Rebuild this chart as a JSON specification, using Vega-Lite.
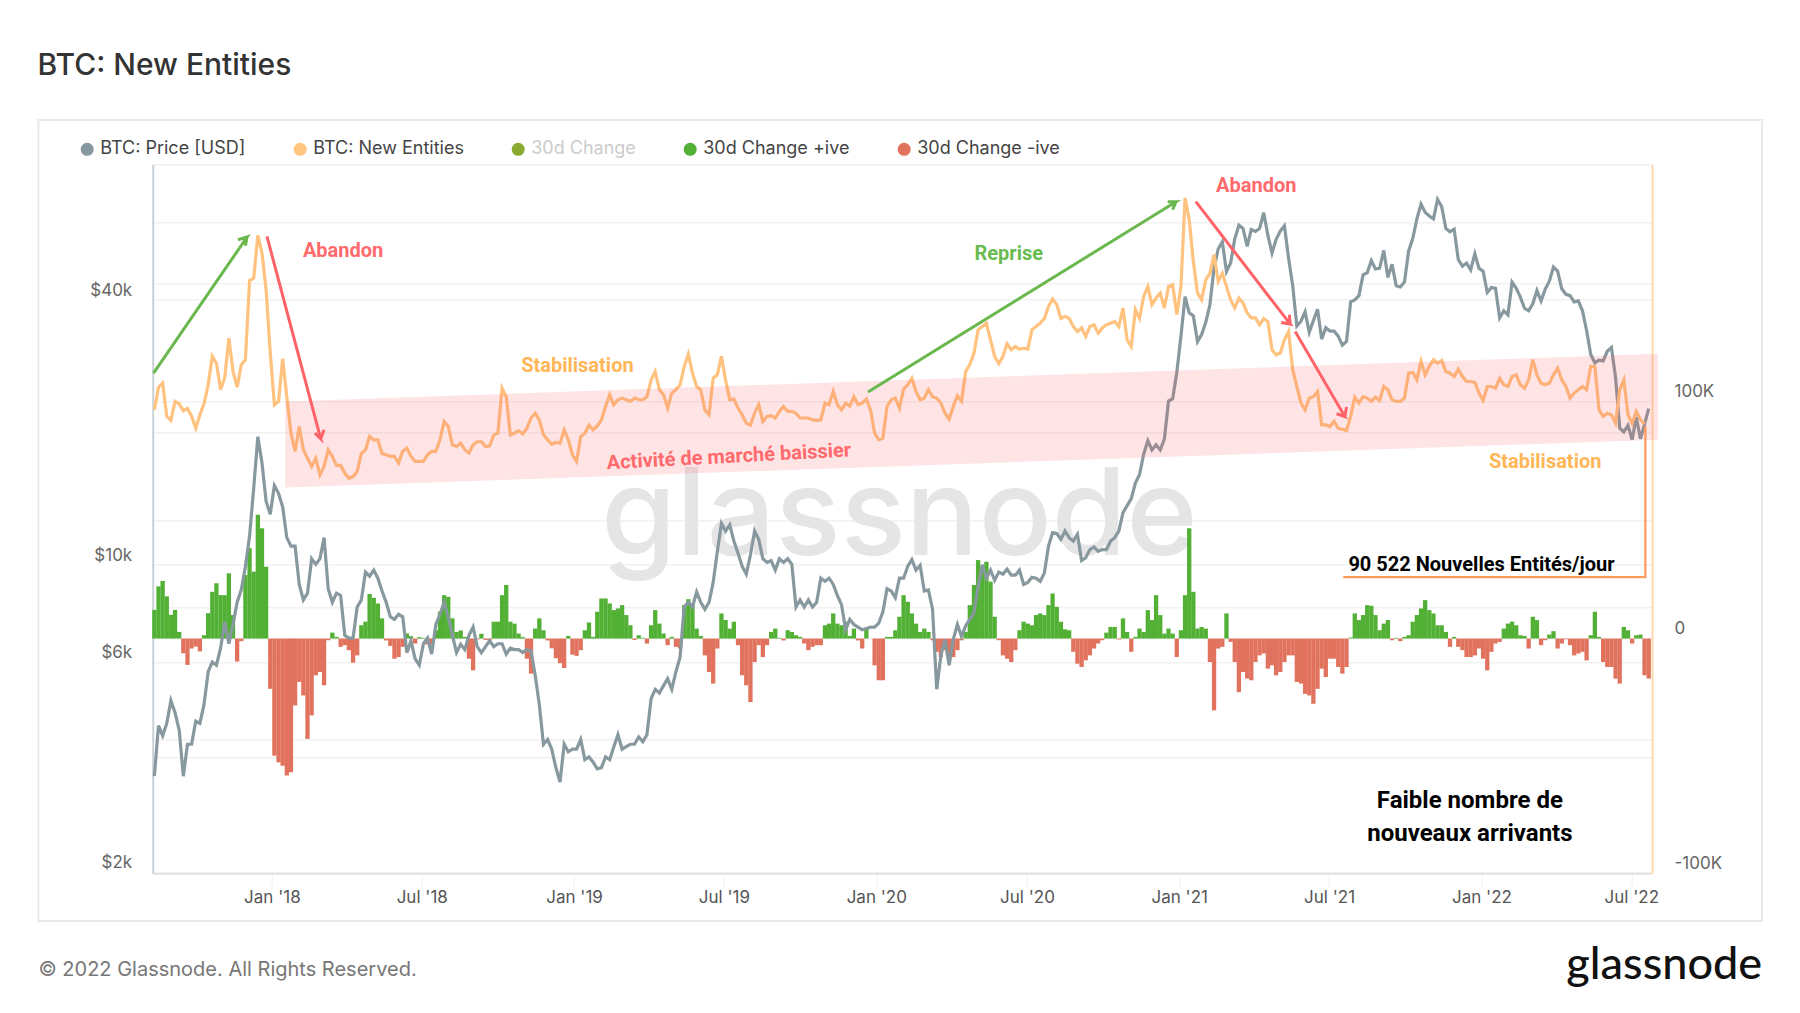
{"$schema":"https://vega.github.io/schema/vega-lite/v6.json","description":"BTC new entities vs price, with 30 day change bars and annotations","autosize":"none","width":1499.3,"height":709,"padding":{"left":152.7,"top":164.3,"right":148,"bottom":139.7},"background":"white",
"title":{"text":"BTC: New Entities","anchor":"start","dx":0,"offset":38,"fontSize":30,"fontWeight":500,"font":"Inter","color":"#333333"},
"config":{"font":"Inter","view":{"stroke":null}},
"datasets":{
"daily":[
{"date":"2017-08-12","entities":96500,"change":12100,"price":3300},{"date":"2017-08-17","entities":106000,"change":22000,"price":4300},{"date":"2017-08-22","entities":107700,"change":24300,"price":4080},{"date":"2017-08-27","entities":93700,"change":17800,"price":4350},
{"date":"2017-09-01","entities":92000,"change":10000,"price":4900},{"date":"2017-09-06","entities":100000,"change":12100,"price":4600},{"date":"2017-09-11","entities":99000,"change":2800,"price":4200},{"date":"2017-09-16","entities":96000,"change":-6200,"price":3300},{"date":"2017-09-21","entities":97000,"change":-11100,"price":3900},{"date":"2017-09-26","entities":93700,"change":-4200,"price":3900},
{"date":"2017-10-01","entities":88700,"change":-3400,"price":4400},{"date":"2017-10-06","entities":94400,"change":-5400,"price":4350},{"date":"2017-10-11","entities":99000,"change":1400,"price":4800},{"date":"2017-10-16","entities":107000,"change":10700,"price":5700},{"date":"2017-10-21","entities":119000,"change":19700,"price":6000},{"date":"2017-10-26","entities":116000,"change":23300,"price":5900},{"date":"2017-10-31","entities":105000,"change":18300,"price":6450},
{"date":"2017-11-05","entities":110000,"change":18300,"price":7400},{"date":"2017-11-10","entities":126700,"change":27500,"price":6600},{"date":"2017-11-15","entities":112700,"change":9900,"price":7300},{"date":"2017-11-20","entities":106000,"change":-9700,"price":8200},{"date":"2017-11-25","entities":115500,"change":-1100,"price":8750},{"date":"2017-11-30","entities":117600,"change":26800,"price":9900},
{"date":"2017-12-05","entities":151000,"change":38100,"price":11600},{"date":"2017-12-10","entities":152000,"change":28200,"price":14900},{"date":"2017-12-15","entities":170000,"change":52200,"price":19500},{"date":"2017-12-20","entities":162600,"change":46500,"price":17000},{"date":"2017-12-25","entities":147000,"change":30300,"price":13900},{"date":"2017-12-30","entities":120400,"change":-21200,"price":13000},
{"date":"2018-01-04","entities":98600,"change":-49400,"price":15100},{"date":"2018-01-09","entities":100000,"change":-52200,"price":14500},{"date":"2018-01-14","entities":118000,"change":-53600,"price":13500},{"date":"2018-01-19","entities":102000,"change":-57800,"price":11500},{"date":"2018-01-24","entities":86600,"change":-56400,"price":11000},{"date":"2018-01-29","entities":78900,"change":-28200,"price":11000},
{"date":"2018-02-03","entities":89400,"change":-18300,"price":9000},{"date":"2018-02-08","entities":79600,"change":-24000,"price":8300},{"date":"2018-02-13","entities":76000,"change":-42300,"price":8600},{"date":"2018-02-18","entities":72600,"change":-32400,"price":10300},{"date":"2018-02-23","entities":76000,"change":-15500,"price":10000},{"date":"2018-02-28","entities":69000,"change":-14100,"price":10300},
{"date":"2018-03-05","entities":72600,"change":-19700,"price":11500},{"date":"2018-03-10","entities":79600,"change":-700,"price":8800},{"date":"2018-03-15","entities":76800,"change":2500,"price":8200},{"date":"2018-03-20","entities":73000,"change":700,"price":8600},{"date":"2018-03-25","entities":73000,"change":-3500,"price":8500},{"date":"2018-03-30","entities":69800,"change":-2800,"price":6900},
{"date":"2018-04-04","entities":67600,"change":-4900,"price":6800},{"date":"2018-04-09","entities":68300,"change":-10200,"price":6800},{"date":"2018-04-14","entities":70400,"change":-7100,"price":8000},{"date":"2018-04-19","entities":78000,"change":5600,"price":8300},{"date":"2018-04-24","entities":79600,"change":7100,"price":9600},{"date":"2018-04-29","entities":85200,"change":18800,"price":9400},
{"date":"2018-05-04","entities":83800,"change":17200,"price":9700},{"date":"2018-05-09","entities":83800,"change":14800,"price":9300},{"date":"2018-05-14","entities":78000,"change":8500,"price":8700},{"date":"2018-05-19","entities":77500,"change":-800,"price":8200},{"date":"2018-05-24","entities":76800,"change":-3100,"price":7600},{"date":"2018-05-29","entities":76800,"change":-8500,"price":7500},
{"date":"2018-06-03","entities":74000,"change":-7800,"price":7700},{"date":"2018-06-08","entities":79000,"change":-3500,"price":7600},{"date":"2018-06-13","entities":80300,"change":2100,"price":6300},{"date":"2018-06-18","entities":76800,"change":1000,"price":6700},{"date":"2018-06-23","entities":74700,"change":-2100,"price":6100},{"date":"2018-06-28","entities":74700,"change":600,"price":5900},
{"date":"2018-07-03","entities":74700,"change":300,"price":6600},{"date":"2018-07-08","entities":77500,"change":-2500,"price":6800},{"date":"2018-07-13","entities":78900,"change":-2500,"price":6250},{"date":"2018-07-18","entities":78900,"change":3500,"price":7300},{"date":"2018-07-23","entities":83800,"change":11300,"price":7700},{"date":"2018-07-28","entities":91500,"change":18300,"price":8200},
{"date":"2018-08-02","entities":89400,"change":17600,"price":7600},{"date":"2018-08-07","entities":81700,"change":8500,"price":6900},{"date":"2018-08-12","entities":81000,"change":2800,"price":6300},{"date":"2018-08-17","entities":82400,"change":3400,"price":6580},{"date":"2018-08-22","entities":79600,"change":700,"price":6400},{"date":"2018-08-27","entities":78200,"change":-8500,"price":6900},
{"date":"2018-09-01","entities":81700,"change":-13400,"price":7200},{"date":"2018-09-06","entities":83000,"change":-400,"price":6500},{"date":"2018-09-11","entities":83000,"change":2000,"price":6300},{"date":"2018-09-16","entities":81000,"change":-600,"price":6500},{"date":"2018-09-21","entities":81300,"change":-800,"price":6700},{"date":"2018-09-26","entities":85900,"change":7100,"price":6500},
{"date":"2018-10-01","entities":86600,"change":7100,"price":6600},{"date":"2018-10-06","entities":105600,"change":18300,"price":6600},{"date":"2018-10-11","entities":102000,"change":22600,"price":6250},{"date":"2018-10-16","entities":85900,"change":7100,"price":6450},{"date":"2018-10-21","entities":86600,"change":6300,"price":6400},{"date":"2018-10-26","entities":87700,"change":2100,"price":6400},{"date":"2018-10-31","entities":86300,"change":600,"price":6300},
{"date":"2018-11-05","entities":88700,"change":-8500,"price":6400},{"date":"2018-11-10","entities":93000,"change":-14800,"price":6350},{"date":"2018-11-15","entities":95000,"change":4200,"price":5600},{"date":"2018-11-20","entities":92200,"change":8500,"price":4800},{"date":"2018-11-25","entities":85900,"change":3500,"price":3900},{"date":"2018-11-30","entities":83800,"change":-800,"price":4000},
{"date":"2018-12-05","entities":82000,"change":-4100,"price":3800},{"date":"2018-12-10","entities":82700,"change":-8300,"price":3450},{"date":"2018-12-15","entities":82400,"change":-10400,"price":3200},{"date":"2018-12-20","entities":88000,"change":-12400,"price":3900},{"date":"2018-12-25","entities":83800,"change":1100,"price":3750},{"date":"2018-12-30","entities":77500,"change":-6800,"price":3800},
{"date":"2019-01-04","entities":74700,"change":-7300,"price":3800},{"date":"2019-01-09","entities":85200,"change":-4900,"price":4000},{"date":"2019-01-14","entities":86600,"change":3500,"price":3600},{"date":"2019-01-19","entities":90000,"change":6800,"price":3650},{"date":"2019-01-24","entities":88000,"change":700,"price":3550},{"date":"2019-01-29","entities":89700,"change":11300,"price":3430},
{"date":"2019-02-03","entities":92200,"change":16900,"price":3450},{"date":"2019-02-08","entities":97900,"change":16900,"price":3650},{"date":"2019-02-13","entities":102800,"change":14800,"price":3600},{"date":"2019-02-18","entities":98600,"change":12000,"price":3850},{"date":"2019-02-23","entities":100700,"change":12700,"price":4100},{"date":"2019-02-28","entities":101400,"change":14100,"price":3800},
{"date":"2019-03-05","entities":100700,"change":9900,"price":3850},{"date":"2019-03-10","entities":100000,"change":5600,"price":3900},{"date":"2019-03-15","entities":101400,"change":-600,"price":3900},{"date":"2019-03-20","entities":100700,"change":1400,"price":4050},{"date":"2019-03-25","entities":100700,"change":300,"price":3950},{"date":"2019-03-30","entities":102000,"change":-2100,"price":4100},
{"date":"2019-04-04","entities":109000,"change":5600,"price":4950},{"date":"2019-04-09","entities":112600,"change":12000,"price":5200},{"date":"2019-04-14","entities":104900,"change":6300,"price":5100},{"date":"2019-04-19","entities":102800,"change":2100,"price":5300},{"date":"2019-04-24","entities":97200,"change":-2800,"price":5500},{"date":"2019-04-29","entities":103500,"change":700,"price":5200},
{"date":"2019-05-04","entities":104900,"change":-3500,"price":5700},{"date":"2019-05-09","entities":107000,"change":-4200,"price":6150},{"date":"2019-05-14","entities":114700,"change":14100,"price":8000},{"date":"2019-05-19","entities":120000,"change":16600,"price":8200},{"date":"2019-05-24","entities":112000,"change":14100,"price":8000},{"date":"2019-05-29","entities":106300,"change":4200,"price":8650},
{"date":"2019-06-03","entities":104900,"change":1100,"price":8200},{"date":"2019-06-08","entities":96500,"change":-7100,"price":7900},{"date":"2019-06-13","entities":94400,"change":-14100,"price":8200},{"date":"2019-06-18","entities":109800,"change":-19000,"price":9100},{"date":"2019-06-23","entities":111200,"change":-4200,"price":10700},{"date":"2019-06-28","entities":119000,"change":10600,"price":12400},
{"date":"2019-07-03","entities":109000,"change":7800,"price":11900},{"date":"2019-07-08","entities":100700,"change":4200,"price":12300},{"date":"2019-07-13","entities":101000,"change":7100,"price":11300},{"date":"2019-07-18","entities":97200,"change":-2800,"price":10600},{"date":"2019-07-23","entities":94400,"change":-15500,"price":9900},{"date":"2019-07-28","entities":90800,"change":-19700,"price":9500},
{"date":"2019-08-02","entities":90000,"change":-26800,"price":10500},{"date":"2019-08-07","entities":95000,"change":-9900,"price":11900},{"date":"2019-08-12","entities":98600,"change":-2800,"price":11400},{"date":"2019-08-17","entities":91500,"change":-7800,"price":10300},{"date":"2019-08-22","entities":93700,"change":-2800,"price":10100},{"date":"2019-08-27","entities":94000,"change":2800,"price":10200},
{"date":"2019-09-01","entities":93000,"change":4200,"price":9700},{"date":"2019-09-06","entities":95800,"change":300,"price":10300},{"date":"2019-09-11","entities":97900,"change":-800,"price":10100},{"date":"2019-09-16","entities":95800,"change":3500,"price":10300},{"date":"2019-09-21","entities":95800,"change":2800,"price":10000},{"date":"2019-09-26","entities":95000,"change":1400,"price":8000},
{"date":"2019-10-01","entities":93000,"change":700,"price":8300},{"date":"2019-10-06","entities":93000,"change":-2100,"price":8000},{"date":"2019-10-11","entities":93000,"change":-4900,"price":8300},{"date":"2019-10-16","entities":92200,"change":-3500,"price":8000},{"date":"2019-10-21","entities":92000,"change":-2800,"price":8200},{"date":"2019-10-26","entities":92200,"change":-2800,"price":9300},{"date":"2019-10-31","entities":99300,"change":5600,"price":9150},
{"date":"2019-11-05","entities":98600,"change":6300,"price":9300},{"date":"2019-11-10","entities":104200,"change":10600,"price":9000},{"date":"2019-11-15","entities":98600,"change":6300,"price":8500},{"date":"2019-11-20","entities":96500,"change":5600,"price":8100},{"date":"2019-11-25","entities":99300,"change":7100,"price":7100},{"date":"2019-11-30","entities":98000,"change":1100,"price":7500},
{"date":"2019-12-05","entities":102000,"change":4200,"price":7300},{"date":"2019-12-10","entities":98600,"change":-800,"price":7200},{"date":"2019-12-15","entities":99300,"change":-4200,"price":7100},{"date":"2019-12-20","entities":101000,"change":4200,"price":7150},{"date":"2019-12-25","entities":96500,"change":0,"price":7200},{"date":"2019-12-30","entities":86600,"change":-11300,"price":7200},
{"date":"2020-01-04","entities":83800,"change":-17600,"price":7350},{"date":"2020-01-09","entities":84500,"change":-17600,"price":7800},{"date":"2020-01-14","entities":97900,"change":700,"price":8800},{"date":"2020-01-19","entities":100700,"change":700,"price":8700},{"date":"2020-01-24","entities":101400,"change":3500,"price":8400},{"date":"2020-01-29","entities":97200,"change":9200,"price":9300},
{"date":"2020-02-03","entities":105200,"change":18300,"price":9300},{"date":"2020-02-08","entities":107000,"change":15500,"price":9900},{"date":"2020-02-13","entities":109800,"change":10600,"price":10250},{"date":"2020-02-18","entities":104200,"change":6300,"price":9700},{"date":"2020-02-23","entities":100700,"change":2800,"price":9950},{"date":"2020-02-28","entities":101400,"change":4200,"price":8700},
{"date":"2020-03-04","entities":105000,"change":2800,"price":8750},{"date":"2020-03-09","entities":102000,"change":-700,"price":7900},{"date":"2020-03-14","entities":101400,"change":-5600,"price":5200},{"date":"2020-03-19","entities":99300,"change":-7800,"price":6200},{"date":"2020-03-24","entities":95000,"change":-4900,"price":6750},{"date":"2020-03-29","entities":92500,"change":-7100,"price":5900},
{"date":"2020-04-03","entities":97900,"change":-7800,"price":6750},{"date":"2020-04-08","entities":102400,"change":-4900,"price":7300},{"date":"2020-04-13","entities":100000,"change":-700,"price":6850},{"date":"2020-04-18","entities":112600,"change":2800,"price":7250},{"date":"2020-04-23","entities":115500,"change":14100,"price":7500},{"date":"2020-04-28","entities":120400,"change":22600,"price":7750},
{"date":"2020-05-03","entities":130200,"change":33100,"price":8900},{"date":"2020-05-08","entities":131600,"change":30300,"price":9980},{"date":"2020-05-13","entities":133000,"change":32400,"price":9300},{"date":"2020-05-18","entities":126000,"change":24000,"price":9700},{"date":"2020-05-23","entities":119000,"change":9200,"price":9200},{"date":"2020-05-28","entities":116000,"change":-700,"price":9600},
{"date":"2020-06-02","entities":119000,"change":-7100,"price":9500},{"date":"2020-06-07","entities":124300,"change":-8500,"price":9750},{"date":"2020-06-12","entities":121800,"change":-9900,"price":9450},{"date":"2020-06-17","entities":123200,"change":-4900,"price":9450},{"date":"2020-06-22","entities":122000,"change":3500,"price":9700},{"date":"2020-06-27","entities":122500,"change":7100,"price":9000},
{"date":"2020-07-02","entities":122000,"change":6300,"price":9100},{"date":"2020-07-07","entities":130200,"change":5600,"price":9350},{"date":"2020-07-12","entities":131600,"change":9900,"price":9300},{"date":"2020-07-17","entities":133000,"change":10600,"price":9150},{"date":"2020-07-22","entities":135000,"change":9900,"price":9550},{"date":"2020-07-27","entities":140000,"change":14100,"price":11000},
{"date":"2020-08-01","entities":143200,"change":19000,"price":11800},{"date":"2020-08-06","entities":140800,"change":13400,"price":11750},{"date":"2020-08-11","entities":135000,"change":7100,"price":11400},{"date":"2020-08-16","entities":135900,"change":3900,"price":11900},{"date":"2020-08-21","entities":135000,"change":3500,"price":11500},{"date":"2020-08-26","entities":131600,"change":-5600,"price":11300},{"date":"2020-08-31","entities":129500,"change":-10600,"price":11700},
{"date":"2020-09-05","entities":131000,"change":-12000,"price":10200},{"date":"2020-09-10","entities":127400,"change":-9200,"price":10350},{"date":"2020-09-15","entities":131600,"change":-7100,"price":10800},{"date":"2020-09-20","entities":132300,"change":-4200,"price":10950},{"date":"2020-09-25","entities":128800,"change":-2100,"price":10700},{"date":"2020-09-30","entities":131000,"change":-700,"price":10800},
{"date":"2020-10-05","entities":132300,"change":2500,"price":10800},{"date":"2020-10-10","entities":133000,"change":4900,"price":11300},{"date":"2020-10-15","entities":133700,"change":4900,"price":11500},{"date":"2020-10-20","entities":131600,"change":-400,"price":11900},{"date":"2020-10-25","entities":139400,"change":8500,"price":13100},{"date":"2020-10-30","entities":126000,"change":2800,"price":13600},
{"date":"2020-11-04","entities":123200,"change":-5600,"price":14100},{"date":"2020-11-09","entities":138700,"change":700,"price":15300},{"date":"2020-11-14","entities":135000,"change":4200,"price":16000},{"date":"2020-11-19","entities":144300,"change":2800,"price":17800},{"date":"2020-11-24","entities":148500,"change":12000,"price":19100},{"date":"2020-11-29","entities":140800,"change":7800,"price":18200},
{"date":"2020-12-04","entities":143600,"change":18300,"price":18700},{"date":"2020-12-09","entities":145700,"change":9900,"price":18200},{"date":"2020-12-14","entities":139400,"change":2100,"price":19250},{"date":"2020-12-19","entities":148500,"change":4200,"price":23500},{"date":"2020-12-24","entities":149200,"change":2100,"price":23800},{"date":"2020-12-29","entities":136600,"change":-7800,"price":27300},
{"date":"2021-01-03","entities":148500,"change":3500,"price":33000},{"date":"2021-01-08","entities":185800,"change":18300,"price":40600},{"date":"2021-01-13","entities":176600,"change":46500,"price":37300},{"date":"2021-01-18","entities":159000,"change":19700,"price":36700},{"date":"2021-01-23","entities":145700,"change":4200,"price":32100},{"date":"2021-01-28","entities":142900,"change":4900,"price":33300},
{"date":"2021-02-02","entities":151300,"change":4200,"price":35500},{"date":"2021-02-07","entities":154000,"change":-9900,"price":38900},{"date":"2021-02-12","entities":161900,"change":-30300,"price":47200},{"date":"2021-02-17","entities":150600,"change":-4200,"price":52100},{"date":"2021-02-22","entities":154000,"change":-3500,"price":54100},{"date":"2021-02-27","entities":148500,"change":10600,"price":46300},
{"date":"2021-03-04","entities":142900,"change":-1400,"price":48400},{"date":"2021-03-09","entities":139400,"change":-9900,"price":54900},{"date":"2021-03-14","entities":143600,"change":-22600,"price":59000},{"date":"2021-03-19","entities":141500,"change":-14100,"price":58000},{"date":"2021-03-24","entities":137300,"change":-16900,"price":52800},{"date":"2021-03-29","entities":135200,"change":-17600,"price":57700},
{"date":"2021-04-03","entities":135200,"change":-9900,"price":57100},{"date":"2021-04-08","entities":132300,"change":-7100,"price":58000},{"date":"2021-04-13","entities":135000,"change":-6300,"price":63000},{"date":"2021-04-18","entities":133700,"change":-12700,"price":56000},{"date":"2021-04-23","entities":121800,"change":-11300,"price":51000},{"date":"2021-04-28","entities":119700,"change":-15500,"price":54800},
{"date":"2021-05-03","entities":120400,"change":-14100,"price":57200},{"date":"2021-05-08","entities":126000,"change":-9900,"price":58800},{"date":"2021-05-13","entities":129500,"change":-7100,"price":49700},{"date":"2021-05-18","entities":113400,"change":-7100,"price":43000},{"date":"2021-05-23","entities":106300,"change":-18300,"price":34800},{"date":"2021-05-28","entities":99300,"change":-19000,"price":35700},
{"date":"2021-06-02","entities":96500,"change":-23300,"price":37500},{"date":"2021-06-07","entities":101400,"change":-24000,"price":33700},{"date":"2021-06-12","entities":102000,"change":-27500,"price":35800},{"date":"2021-06-17","entities":104200,"change":-21200,"price":38000},{"date":"2021-06-22","entities":90100,"change":-12700,"price":32500},{"date":"2021-06-27","entities":90100,"change":-16200,"price":34500},
{"date":"2021-07-02","entities":89400,"change":-8500,"price":33900},{"date":"2021-07-07","entities":91600,"change":-8500,"price":33900},{"date":"2021-07-12","entities":88700,"change":-12000,"price":33000},{"date":"2021-07-17","entities":88300,"change":-14800,"price":31500},{"date":"2021-07-22","entities":87700,"change":-12000,"price":32100},{"date":"2021-07-27","entities":93700,"change":400,"price":39500},
{"date":"2021-08-01","entities":101800,"change":10600,"price":39900},{"date":"2021-08-06","entities":99300,"change":7800,"price":40800},{"date":"2021-08-11","entities":102000,"change":9900,"price":45500},{"date":"2021-08-16","entities":101400,"change":14100,"price":46000},{"date":"2021-08-21","entities":100000,"change":13800,"price":49000},{"date":"2021-08-26","entities":101800,"change":9900,"price":46900},{"date":"2021-08-31","entities":100400,"change":3500,"price":47100},
{"date":"2021-09-05","entities":106300,"change":6300,"price":51700},{"date":"2021-09-10","entities":104900,"change":7800,"price":44900},{"date":"2021-09-15","entities":100700,"change":-700,"price":48100},{"date":"2021-09-20","entities":100000,"change":300,"price":43000},{"date":"2021-09-25","entities":100000,"change":-1100,"price":42700},{"date":"2021-09-30","entities":101400,"change":700,"price":43800},
{"date":"2021-10-05","entities":111900,"change":1400,"price":51500},{"date":"2021-10-10","entities":112200,"change":7100,"price":55000},{"date":"2021-10-15","entities":109100,"change":9900,"price":61000},{"date":"2021-10-20","entities":116900,"change":12700,"price":65900},{"date":"2021-10-25","entities":111200,"change":16200,"price":63100},{"date":"2021-10-30","entities":114800,"change":12000,"price":61900},
{"date":"2021-11-04","entities":117600,"change":10600,"price":61000},{"date":"2021-11-09","entities":116200,"change":5600,"price":67500},{"date":"2021-11-14","entities":117300,"change":5600,"price":65000},{"date":"2021-11-19","entities":112600,"change":2800,"price":58000},{"date":"2021-11-24","entities":111900,"change":-3500,"price":57000},{"date":"2021-11-29","entities":110500,"change":700,"price":57800},
{"date":"2021-12-04","entities":113600,"change":-3500,"price":49300},{"date":"2021-12-09","entities":110500,"change":-4900,"price":47600},{"date":"2021-12-14","entities":108400,"change":-7800,"price":48400},{"date":"2021-12-19","entities":108400,"change":-7800,"price":46700},{"date":"2021-12-24","entities":108000,"change":-7100,"price":50800},{"date":"2021-12-29","entities":103500,"change":-4200,"price":47100},
{"date":"2022-01-03","entities":100400,"change":-8500,"price":46400},{"date":"2022-01-08","entities":106300,"change":-13400,"price":41500},{"date":"2022-01-13","entities":106300,"change":-5600,"price":42600},{"date":"2022-01-18","entities":105600,"change":-2100,"price":42400},{"date":"2022-01-23","entities":109800,"change":-1400,"price":36300},{"date":"2022-01-28","entities":107000,"change":4200,"price":37700},
{"date":"2022-02-02","entities":106300,"change":6300,"price":36900},{"date":"2022-02-07","entities":110500,"change":7100,"price":43800},{"date":"2022-02-12","entities":111200,"change":5600,"price":42400},{"date":"2022-02-17","entities":107000,"change":1400,"price":40500},{"date":"2022-02-22","entities":105600,"change":1100,"price":38200},{"date":"2022-02-27","entities":109100,"change":-4200,"price":37700},
{"date":"2022-03-04","entities":117600,"change":9200,"price":39100},{"date":"2022-03-09","entities":111200,"change":7800,"price":41900},{"date":"2022-03-14","entities":107700,"change":-2800,"price":39700},{"date":"2022-03-19","entities":107000,"change":-700,"price":42200},{"date":"2022-03-24","entities":107700,"change":1700,"price":44000},{"date":"2022-03-29","entities":111200,"change":3100,"price":47400},
{"date":"2022-04-03","entities":114000,"change":-4200,"price":46400},{"date":"2022-04-08","entities":109100,"change":-2100,"price":42300},{"date":"2022-04-13","entities":106300,"change":-300,"price":41100},{"date":"2022-04-18","entities":101400,"change":-2800,"price":40800},{"date":"2022-04-23","entities":103500,"change":-7100,"price":39500},{"date":"2022-04-28","entities":104900,"change":-6300,"price":39700},
{"date":"2022-05-03","entities":106300,"change":-5600,"price":37700},{"date":"2022-05-08","entities":104900,"change":-9200,"price":34000},{"date":"2022-05-13","entities":114800,"change":1400,"price":30000},{"date":"2022-05-18","entities":114800,"change":11300,"price":28700},{"date":"2022-05-23","entities":96500,"change":700,"price":29100},{"date":"2022-05-28","entities":93700,"change":-9900,"price":29000},
{"date":"2022-06-02","entities":95000,"change":-12000,"price":30500},{"date":"2022-06-07","entities":94400,"change":-12000,"price":31100},{"date":"2022-06-12","entities":90800,"change":-16900,"price":26600},{"date":"2022-06-17","entities":104900,"change":-19000,"price":20400},{"date":"2022-06-22","entities":109100,"change":4900,"price":20000},{"date":"2022-06-27","entities":94400,"change":3500,"price":20700},
{"date":"2022-07-02","entities":90800,"change":-2100,"price":19200},{"date":"2022-07-07","entities":95800,"change":1400,"price":21600},{"date":"2022-07-12","entities":92300,"change":1700,"price":19300},{"date":"2022-07-17","entities":90500,"change":-15500,"price":20800},{"date":"2022-07-22","change":-16900,"price":22600}
],
"frame":[{"date":"2017-03-25","date2":"2022-12-06","value":218630,"value2":-119120}],
"band":[{"date":"2018-01-17","value":99980,"value2":63700},{"date":"2022-08-02","value":120100,"value2":83820}],
"paths":[
{"id":"rise1","ink":"green","seq":1,"date":"2017-08-11","value":111960},{"id":"rise1","ink":"green","seq":2,"date":"2017-12-02","value":169340},{"id":"rise1","ink":"green","seq":3,"date":"2017-11-21","value":168200},{"id":"rise1","ink":"green","seq":4,"date":"2017-12-02","value":169340},{"id":"rise1","ink":"green","seq":5,"date":"2017-11-30","value":165670},
{"id":"rise2","ink":"green","seq":1,"date":"2019-12-22","value":103940},{"id":"rise2","ink":"green","seq":2,"date":"2020-12-28","value":184230},{"id":"rise2","ink":"green","seq":3,"date":"2020-12-18","value":184230},{"id":"rise2","ink":"green","seq":4,"date":"2020-12-28","value":184230},{"id":"rise2","ink":"green","seq":5,"date":"2020-12-24","value":180860},
{"id":"drop1","ink":"red","seq":1,"date":"2017-12-26","value":169590},{"id":"drop1","ink":"red","seq":2,"date":"2018-03-01","value":84240},{"id":"drop1","ink":"red","seq":3,"date":"2018-02-22","value":86650},{"id":"drop1","ink":"red","seq":4,"date":"2018-03-01","value":84240},{"id":"drop1","ink":"red","seq":5,"date":"2018-03-05","value":88040},
{"id":"drop2","ink":"red","seq":1,"date":"2021-01-21","value":184230},{"id":"drop2","ink":"red","seq":2,"date":"2021-05-15","value":132630},{"id":"drop2","ink":"red","seq":3,"date":"2021-05-04","value":133310},{"id":"drop2","ink":"red","seq":4,"date":"2021-05-15","value":132630},{"id":"drop2","ink":"red","seq":5,"date":"2021-05-14","value":136560},
{"id":"drop3","ink":"red","seq":1,"date":"2021-05-21","value":129510},{"id":"drop3","ink":"red","seq":2,"date":"2021-07-20","value":93650},{"id":"drop3","ink":"red","seq":3,"date":"2021-07-10","value":94790},{"id":"drop3","ink":"red","seq":4,"date":"2021-07-20","value":93650},{"id":"drop3","ink":"red","seq":5,"date":"2021-07-22","value":97620},
{"id":"callout","ink":"orange","seq":1,"date":"2021-07-18","value":25890},{"id":"callout","ink":"orange","seq":2,"date":"2022-07-18","value":25890},{"id":"callout","ink":"orange","seq":3,"date":"2022-07-18","value":89500}
],
"notes":[
{"label":"Abandon","kind":"red","date":"2018-03-28","value":163260},{"label":"Abandon","kind":"red","date":"2021-04-04","value":190860},
{"label":"Reprise","kind":"green","date":"2020-06-09","value":162290},
{"label":"Stabilisation","kind":"orange","date":"2019-01-05","value":115040},{"label":"Stabilisation","kind":"orange","date":"2022-03-19","value":74540},
{"label":"Activité de marché baissier","kind":"band","date":"2019-07-07","value":76650},
{"label":"90 522 Nouvelles Entités/jour","kind":"callout","date":"2022-01-01","value":31080},
{"label":"Faible nombre de","kind":"big","date":"2021-12-18","value":-68490},{"label":"nouveaux arrivants","kind":"big","date":"2021-12-18","value":-82410},
{"label":"© 2022 Glassnode. All Rights Reserved.","kind":"footer","date":"2017-03-25","value":-139600},
{"label":"glassnode","kind":"logo","date":"2022-12-06","value":-137680},
{"label":"glassnode","kind":"watermark","date":"2020-01-29","value":35300}
],
"series":[{"series":"BTC: Price [USD]","date":"2020-01-01"},{"series":"BTC: New Entities","date":"2020-01-01"},{"series":"30d Change","date":"2020-01-01"},{"series":"30d Change +ive","date":"2020-01-01"},{"series":"30d Change -ive","date":"2020-01-01"}]
},
"data":{"name":"daily"},
"encoding":{"x":{"field":"date","type":"temporal","title":null,"scale":{"padding":0,"domain":[{"year":2017,"month":8,"date":10},{"year":2022,"month":7,"date":26}]},
"axis":{"values":[{"year":2018,"month":1,"date":1},{"year":2018,"month":7,"date":1},{"year":2019,"month":1,"date":1},{"year":2019,"month":7,"date":1},{"year":2020,"month":1,"date":1},{"year":2020,"month":7,"date":1},{"year":2021,"month":1,"date":1},{"year":2021,"month":7,"date":1},{"year":2022,"month":1,"date":1},{"year":2022,"month":7,"date":1}],"format":"%b '%y","grid":false,"labelFontSize":17,"labelColor":"#555555","labelPadding":3,"labelOverlap":false,"tickColor":"#eeeeee","tickSize":13,"domainColor":"#dddddd","domainWidth":1.5}}},
"layer":[
{"data":{"name":"frame"},"mark":{"type":"rect","filled":false,"stroke":"#e9e9e9","strokeWidth":2},"encoding":{"x2":{"field":"date2"},"y2":{"field":"value2"},"y":{"field":"value","type":"quantitative","title":null,"scale":{"domain":[-99000,200000],"nice":false,"zero":false},
"axis":{"orient":"right","values":[-99000,-50000,0,50000,100000,150000,200000],"labelExpr":"datum.value==-99000?'-100K':datum.value==100000?'100K':datum.value==0?'0':''","grid":true,"gridColor":"#f2f2f2","gridWidth":1.5,"ticks":false,"tickSize":0,"labelPadding":22,"labelOffset":-10,"labelFontSize":17,"labelColor":"#666666","labelOverlap":false,"labelBound":false,"domainColor":"#ffd9ad","domainWidth":2}}}},
{"data":{"name":"notes"},"transform":[{"filter":"datum.kind=='watermark'"}],"mark":{"type":"text","baseline":"alphabetic","align":"center","fontSize":121,"fontWeight":500,"color":"#e5e5e5"},"encoding":{"text":{"field":"label"},"y":{"field":"value","type":"quantitative","axis":null,"scale":{"domain":[-99000,200000],"nice":false,"zero":false}}}},
{"mark":{"type":"bar","width":4.3},"encoding":{"y":{"field":"change","type":"quantitative","stack":null,"axis":null,"scale":{"domain":[-99000,200000],"nice":false,"zero":false}},"color":{"condition":{"test":"datum.change>=0","value":"#52b035"},"value":"#e1735e"}}},
{"mark":{"type":"line","color":"#87989f","strokeWidth":3.2},"encoding":{"y":{"field":"price","type":"quantitative","title":null,"scale":{"type":"log","domain":[1985,81150],"nice":false},
"axis":{"orient":"left","values":[2000,4000,6000,8000,10000,20000,40000,60000],"labelExpr":"datum.value==2000?'$2k':datum.value==6000?'$6k':datum.value==10000?'$10k':datum.value==40000?'$40k':''","grid":true,"gridColor":"#f2f2f2","gridWidth":1.5,"ticks":false,"tickSize":0,"labelPadding":21,"labelOffset":-9,"labelFontSize":17,"labelColor":"#666666","labelOverlap":false,"labelBound":false,"domainColor":"#c9d3d7","domainWidth":2}}}},
{"mark":{"type":"line","color":"#ffc27f","strokeWidth":3.2},"encoding":{"y":{"field":"entities","type":"quantitative","axis":null,"scale":{"domain":[-99000,200000],"nice":false,"zero":false}}}},
{"data":{"name":"band"},"mark":{"type":"area","color":"#f9555f","opacity":0.16},"encoding":{"y":{"field":"value","type":"quantitative","axis":null,"scale":{"domain":[-99000,200000],"nice":false,"zero":false}},"y2":{"field":"value2"}}},
{"data":{"name":"paths"},"transform":[{"filter":"datum.ink=='green'"}],"mark":{"type":"line","color":"#6ab84d","strokeWidth":3},"encoding":{"y":{"field":"value","type":"quantitative","axis":null,"scale":{"domain":[-99000,200000],"nice":false,"zero":false}},"detail":{"field":"id"},"order":{"field":"seq"}}},
{"data":{"name":"paths"},"transform":[{"filter":"datum.ink=='red'"}],"mark":{"type":"line","color":"#ff6368","strokeWidth":3},"encoding":{"y":{"field":"value","type":"quantitative","axis":null,"scale":{"domain":[-99000,200000],"nice":false,"zero":false}},"detail":{"field":"id"},"order":{"field":"seq"}}},
{"data":{"name":"paths"},"transform":[{"filter":"datum.ink=='orange'"}],"mark":{"type":"line","color":"#ff9a5c","strokeWidth":2.2},"encoding":{"y":{"field":"value","type":"quantitative","axis":null,"scale":{"domain":[-99000,200000],"nice":false,"zero":false}},"detail":{"field":"id"},"order":{"field":"seq"}}},
{"data":{"name":"notes"},"transform":[{"filter":"datum.kind=='red'"}],"mark":{"type":"text","font":"Roboto","fontWeight":700,"fontSize":20,"color":"#ff6a6d"},"encoding":{"text":{"field":"label"},"y":{"field":"value","type":"quantitative","axis":null,"scale":{"domain":[-99000,200000],"nice":false,"zero":false}}}},
{"data":{"name":"notes"},"transform":[{"filter":"datum.kind=='green'"}],"mark":{"type":"text","font":"Roboto","fontWeight":700,"fontSize":20,"color":"#6abb4f"},"encoding":{"text":{"field":"label"},"y":{"field":"value","type":"quantitative","axis":null,"scale":{"domain":[-99000,200000],"nice":false,"zero":false}}}},
{"data":{"name":"notes"},"transform":[{"filter":"datum.kind=='orange'"}],"mark":{"type":"text","font":"Roboto","fontWeight":700,"fontSize":20,"color":"#ffb657"},"encoding":{"text":{"field":"label"},"y":{"field":"value","type":"quantitative","axis":null,"scale":{"domain":[-99000,200000],"nice":false,"zero":false}}}},
{"data":{"name":"notes"},"transform":[{"filter":"datum.kind=='band'"}],"mark":{"type":"text","font":"Roboto","fontWeight":700,"fontSize":20,"angle":-3,"color":"#ff6a6d"},"encoding":{"text":{"field":"label"},"y":{"field":"value","type":"quantitative","axis":null,"scale":{"domain":[-99000,200000],"nice":false,"zero":false}}}},
{"data":{"name":"notes"},"transform":[{"filter":"datum.kind=='callout'"}],"mark":{"type":"text","font":"Roboto","fontWeight":700,"fontSize":20,"color":"#000000"},"encoding":{"text":{"field":"label"},"y":{"field":"value","type":"quantitative","axis":null,"scale":{"domain":[-99000,200000],"nice":false,"zero":false}}}},
{"data":{"name":"notes"},"transform":[{"filter":"datum.kind=='big'"}],"mark":{"type":"text","font":"Roboto","fontWeight":700,"fontSize":24,"color":"#000000"},"encoding":{"text":{"field":"label"},"y":{"field":"value","type":"quantitative","axis":null,"scale":{"domain":[-99000,200000],"nice":false,"zero":false}}}},
{"data":{"name":"notes"},"transform":[{"filter":"datum.kind=='footer'"}],"mark":{"type":"text","align":"left","fontSize":20,"color":"#777777"},"encoding":{"text":{"field":"label"},"y":{"field":"value","type":"quantitative","axis":null,"scale":{"domain":[-99000,200000],"nice":false,"zero":false}}}},
{"data":{"name":"notes"},"transform":[{"filter":"datum.kind=='logo'"}],"mark":{"type":"text","align":"right","font":"Lato","fontSize":45,"fontWeight":500,"color":"#111111"},"encoding":{"text":{"field":"label"},"y":{"field":"value","type":"quantitative","axis":null,"scale":{"domain":[-99000,200000],"nice":false,"zero":false}}}},
{"data":{"name":"series"},"mark":{"type":"circle","opacity":0},"encoding":{"color":{"field":"series","type":"nominal","scale":{"domain":["BTC: Price [USD]","BTC: New Entities","30d Change","30d Change +ive","30d Change -ive"],"range":["#87989f","#ffc680","#8aab32","#52b035","#e1735e"]},
"legend":{"title":null,"orient":"none","legendX":-74.5,"legendY":-24,"direction":"horizontal","columns":5,"columnPadding":45,"symbolType":"circle","symbolSize":170,"symbolOpacity":1,"symbolStrokeWidth":0,"labelFontSize":18,"labelLimit":300,"labelOffset":4,"encode":{"labels":{"update":{"fill":{"signal":"datum.label=='30d Change'?'#cccccc':'#444444'"}}}}}}}}
],
"resolve":{"scale":{"y":"independent"},"axis":{"y":"independent"}}
}
